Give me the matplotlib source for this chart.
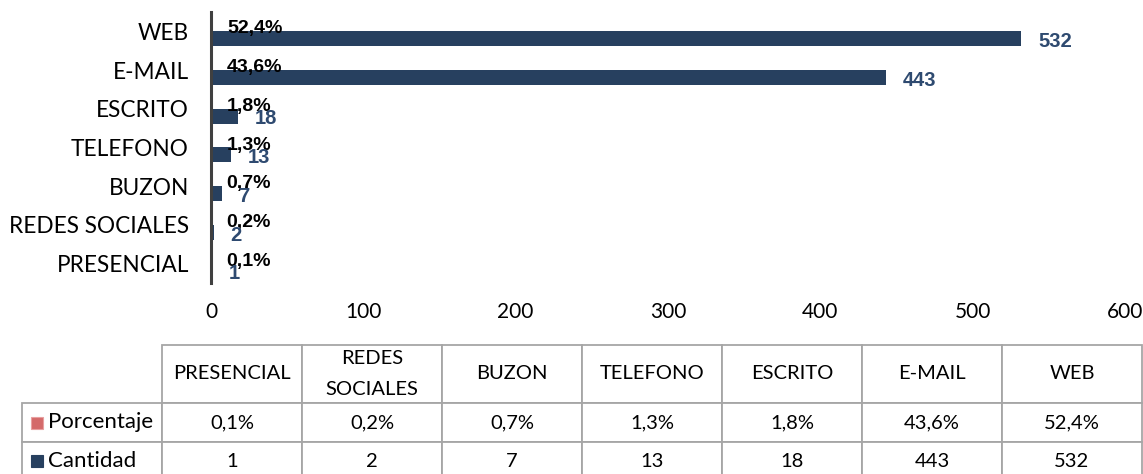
import matplotlib
matplotlib.use("Agg")
import matplotlib.pyplot as plt
from matplotlib.table import Table
from matplotlib.patches import Rectangle
import numpy as np

categories = ["PRESENCIAL", "REDES SOCIALES", "BUZON", "TELEFONO", "ESCRITO", "E-MAIL", "WEB"]
table_headers = ["PRESENCIAL", "REDES\nSOCIALES", "BUZON", "TELEFONO", "ESCRITO", "E-MAIL", "WEB"]
cantidad = [1, 2, 7, 13, 18, 443, 532]
porcentaje = [0.001, 0.002, 0.007, 0.013, 0.018, 0.436, 0.524]
porcentaje_labels = ["0,1%", "0,2%", "0,7%", "1,3%", "1,8%", "43,6%", "52,4%"]
series_names = ["Porcentaje", "Cantidad"]
xticks = [0, 100, 200, 300, 400, 500, 600]

C_CANT = "#27405F"
C_CANT_LBL = "#2E4A70"
C_PCT = "#D46A6A"
W, H = 1143, 474

fig = plt.figure(figsize=(W / 100, H / 100), dpi=100)

def fax(x0, y0, x1, y1):
    return [x0 / W, 1 - y1 / H, (x1 - x0) / W, (y1 - y0) / H]

ax = fig.add_axes(fax(211, 12, 1125, 283))
y = np.arange(len(categories))
bh = 0.39
ax.barh(y - 0.19, cantidad, height=bh, color=C_CANT)
ax.barh(y + 0.19, porcentaje, height=bh, color=C_PCT)

for yi, v, p, pl in zip(y, cantidad, porcentaje, porcentaje_labels):
    ax.annotate(pl, (p, yi + 0.19), xytext=(11, -3.5), textcoords="offset points",
                ha="left", va="center", fontsize=14, fontweight="bold",
                color="black", family="Liberation Sans")
    ax.annotate(str(v), (v, yi - 0.19), xytext=(12, -2), textcoords="offset points",
                ha="left", va="center", fontsize=14.5, fontweight="bold",
                color=C_CANT_LBL, family="Liberation Sans")

ax.set_xlim(0, 600)
ax.set_ylim(-0.5, len(categories) - 0.5)
ax.set_yticks(y)
ax.set_yticklabels(categories, fontsize=16.3, family="Lato")
ax.set_xticks(xticks)
ax.set_xticklabels([str(t) for t in xticks], fontsize=15, family="Lato")
ax.tick_params(axis="y", length=0, pad=16)
ax.tick_params(axis="x", length=0, pad=14)
for s in ["top", "right", "bottom"]:
    ax.spines[s].set_visible(False)
ax.spines["left"].set_color("#404040")
ax.spines["left"].set_linewidth(2.2)
ax.spines["left"].set_zorder(5)

# table
tx0, ty0, tx1, ty1 = 22, 345, 1142, 481
axt = fig.add_axes(fax(tx0, ty0, tx1, ty1))
axt.set_axis_off()
tab = Table(axt, bbox=[0, 0, 1, 1])
ncol = len(categories) + 1
cw = 1.0 / ncol
hh = [58, 39, 39]
hfr = [h / sum(hh) for h in hh]
edge = "#A6A6A6"
for j, hd in enumerate(table_headers):
    tab.add_cell(0, j + 1, cw, hfr[0], text=hd, loc="center", edgecolor=edge)
rows = [porcentaje_labels, [str(v) for v in cantidad]]
for i, (name, vals) in enumerate(zip(series_names, rows)):
    tab.add_cell(i + 1, 0, cw, hfr[i + 1], text="", loc="left", edgecolor=edge)
    for j, v in enumerate(vals):
        tab.add_cell(i + 1, j + 1, cw, hfr[i + 1], text=v, loc="center", edgecolor=edge)
tab.auto_set_font_size(False)
for cell in tab.get_celld().values():
    cell.set_linewidth(1.3)
    cell.get_text().set_fontsize(14.5)
    cell.get_text().set_family("Lato")
    cell.get_text().set_linespacing(1.95)
axt.add_table(tab)

tw = tx1 - tx0
th = ty1 - ty0
sq = 12
for i, (name, col) in enumerate(zip(series_names, [C_PCT, C_CANT])):
    row_top = ty0 + hh[0] + sum(hh[1:1 + i])
    cy = row_top + hh[1 + i] / 2
    sx = 9
    axt.add_patch(Rectangle((sx / tw, 1 - (cy + sq / 2 - ty0) / th), sq / tw, sq / th,
                            transform=axt.transAxes, facecolor=col,
                            edgecolor=("#E8A0A0" if i == 0 else col), lw=0.8, clip_on=False))
    axt.text((sx + sq + 5) / tw, 1 - (cy - ty0) / th, name, transform=axt.transAxes,
             ha="left", va="center", fontsize=16, family="Lato")

fig.savefig("out.png", dpi=100)
